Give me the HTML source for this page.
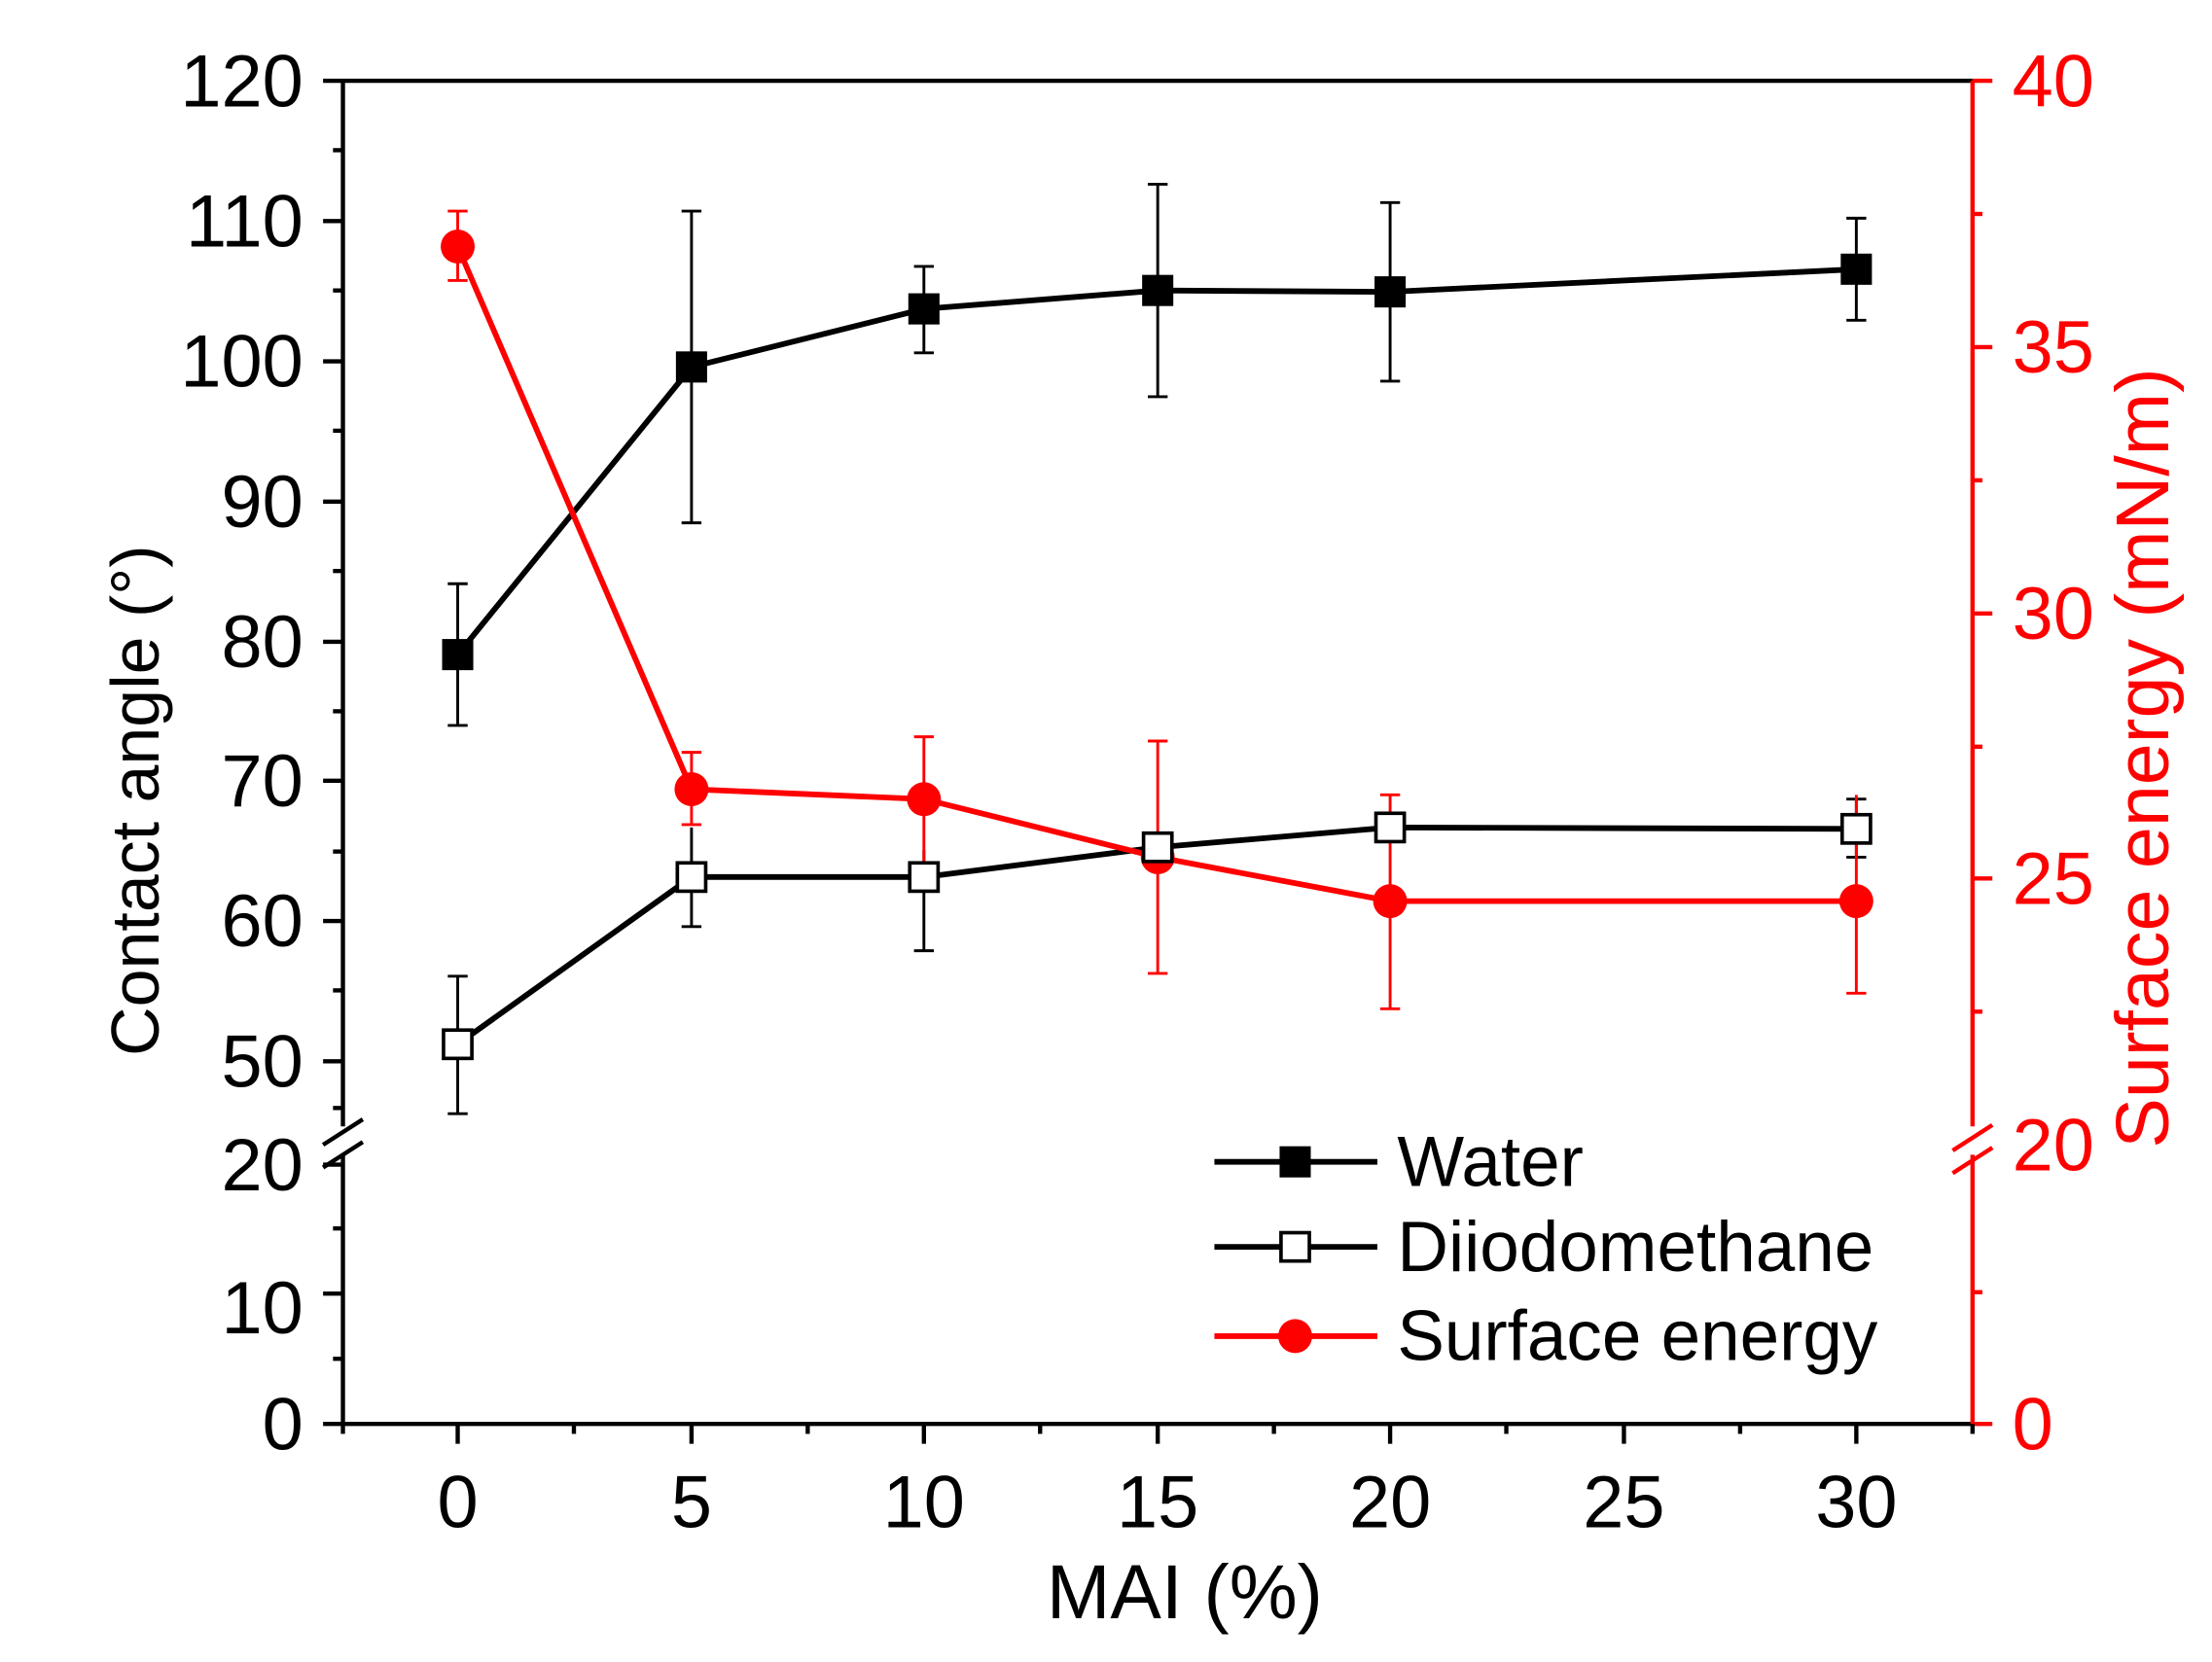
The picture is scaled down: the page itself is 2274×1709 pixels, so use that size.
<!DOCTYPE html>
<html><head><meta charset="utf-8"><style>html,body{margin:0;padding:0;background:#fff}svg{display:block}</style></head>
<body>
<svg width="2274" height="1709" viewBox="0 0 1561 1173" preserveAspectRatio="none" xmlns="http://www.w3.org/2000/svg" font-family="Liberation Sans, Arial, sans-serif">
<rect width="1561" height="1173" fill="#fff"/>
<line x1="242" y1="57" x2="1392" y2="57" stroke="#000" stroke-width="3"/>
<line x1="242" y1="1005" x2="1392" y2="1005" stroke="#000" stroke-width="3"/>
<line x1="242" y1="57" x2="242" y2="795" stroke="#000" stroke-width="3"/>
<line x1="242" y1="815" x2="242" y2="1005" stroke="#000" stroke-width="3"/>
<line x1="1392" y1="57" x2="1392" y2="795" stroke="#f00" stroke-width="3"/>
<line x1="1392" y1="815" x2="1392" y2="1005" stroke="#f00" stroke-width="3"/>
<g stroke="#000" stroke-width="3"><line x1="228" y1="808" x2="256" y2="790"/><line x1="228" y1="824" x2="256" y2="806"/></g>
<g stroke="#f00" stroke-width="3"><line x1="1378" y1="812" x2="1406" y2="794"/><line x1="1378" y1="828" x2="1406" y2="810"/></g>
<g stroke="#000" stroke-width="3">
<line x1="228" y1="57" x2="242" y2="57"/><line x1="228" y1="156" x2="242" y2="156"/><line x1="228" y1="255" x2="242" y2="255"/><line x1="228" y1="354" x2="242" y2="354"/><line x1="228" y1="453" x2="242" y2="453"/><line x1="228" y1="551" x2="242" y2="551"/><line x1="228" y1="650" x2="242" y2="650"/><line x1="228" y1="749" x2="242" y2="749"/>
<line x1="235" y1="106" x2="242" y2="106"/><line x1="235" y1="205" x2="242" y2="205"/><line x1="235" y1="304" x2="242" y2="304"/><line x1="235" y1="403" x2="242" y2="403"/><line x1="235" y1="502" x2="242" y2="502"/><line x1="235" y1="601" x2="242" y2="601"/><line x1="235" y1="699" x2="242" y2="699"/><line x1="235" y1="782" x2="242" y2="782"/>
<line x1="228" y1="822" x2="242" y2="822"/><line x1="228" y1="913" x2="242" y2="913"/><line x1="228" y1="1005" x2="242" y2="1005"/>
<line x1="235" y1="867" x2="242" y2="867"/><line x1="235" y1="959" x2="242" y2="959"/>
</g>
<g stroke="#f00" stroke-width="3">
<line x1="1392" y1="57" x2="1406" y2="57"/><line x1="1392" y1="245" x2="1406" y2="245"/><line x1="1392" y1="433" x2="1406" y2="433"/><line x1="1392" y1="620" x2="1406" y2="620"/>
<line x1="1392" y1="151" x2="1399" y2="151"/><line x1="1392" y1="339" x2="1399" y2="339"/><line x1="1392" y1="527" x2="1399" y2="527"/><line x1="1392" y1="714" x2="1399" y2="714"/>
<line x1="1392" y1="912" x2="1399" y2="912"/><line x1="1392" y1="1005" x2="1406" y2="1005"/>
</g>
<g stroke="#000" stroke-width="3">
<line x1="323" y1="1005" x2="323" y2="1019"/><line x1="488" y1="1005" x2="488" y2="1019"/><line x1="652" y1="1005" x2="652" y2="1019"/><line x1="817" y1="1005" x2="817" y2="1019"/><line x1="981" y1="1005" x2="981" y2="1019"/><line x1="1146" y1="1005" x2="1146" y2="1019"/><line x1="1310" y1="1005" x2="1310" y2="1019"/>
<line x1="242" y1="1005" x2="242" y2="1012"/><line x1="405" y1="1005" x2="405" y2="1012"/><line x1="570" y1="1005" x2="570" y2="1012"/><line x1="734" y1="1005" x2="734" y2="1012"/><line x1="899" y1="1005" x2="899" y2="1012"/><line x1="1063" y1="1005" x2="1063" y2="1012"/><line x1="1228" y1="1005" x2="1228" y2="1012"/><line x1="1392" y1="1005" x2="1392" y2="1012"/>
</g>
<g font-size="52" text-anchor="end" fill="#000">
<text x="214" y="75">120</text><text x="214" y="174">110</text><text x="214" y="273">100</text><text x="214" y="372">90</text><text x="214" y="471">80</text><text x="214" y="569">70</text><text x="214" y="668">60</text><text x="214" y="767">50</text>
<text x="214" y="840">20</text><text x="214" y="941">10</text><text x="214" y="1023">0</text>
</g>
<g font-size="52" fill="#f00">
<text x="1420" y="75">40</text><text x="1420" y="263">35</text><text x="1420" y="451">30</text><text x="1420" y="638">25</text><text x="1420" y="826">20</text><text x="1420" y="1023">0</text>
</g>
<g font-size="52" text-anchor="middle">
<text x="323" y="1078">0</text><text x="488" y="1078">5</text><text x="652" y="1078">10</text><text x="817" y="1078">15</text><text x="981" y="1078">20</text><text x="1146" y="1078">25</text><text x="1310" y="1078">30</text>
</g>
<text x="836" y="1142" font-size="54" text-anchor="middle">MAI (%)</text>
<text transform="translate(112,565) rotate(-90)" font-size="48" text-anchor="middle">Contact angle (°)</text>
<text transform="translate(1530,535) rotate(-90)" font-size="53" text-anchor="middle" fill="#f00">Surface energy (mN/m)</text>
<g stroke="#000" stroke-width="2">
<line x1="323" y1="412" x2="323" y2="512"/><line x1="316" y1="412" x2="330" y2="412"/><line x1="316" y1="512" x2="330" y2="512"/>
<line x1="488" y1="149" x2="488" y2="369"/><line x1="481" y1="149" x2="495" y2="149"/><line x1="481" y1="369" x2="495" y2="369"/>
<line x1="652" y1="188" x2="652" y2="249"/><line x1="645" y1="188" x2="659" y2="188"/><line x1="645" y1="249" x2="659" y2="249"/>
<line x1="817" y1="130" x2="817" y2="280"/><line x1="810" y1="130" x2="824" y2="130"/><line x1="810" y1="280" x2="824" y2="280"/>
<line x1="981" y1="143" x2="981" y2="269"/><line x1="974" y1="143" x2="988" y2="143"/><line x1="974" y1="269" x2="988" y2="269"/>
<line x1="1310" y1="154" x2="1310" y2="226"/><line x1="1303" y1="154" x2="1317" y2="154"/><line x1="1303" y1="226" x2="1317" y2="226"/>
</g>
<polyline points="323,462 488,259 652,218 817,205 981,206 1310,190" fill="none" stroke="#000" stroke-width="4"/>
<g fill="#000"><rect x="312" y="451" width="22" height="22"/><rect x="477" y="248" width="22" height="22"/><rect x="641" y="207" width="22" height="22"/><rect x="806" y="194" width="22" height="22"/><rect x="970" y="195" width="22" height="22"/><rect x="1299" y="179" width="22" height="22"/></g>
<g stroke="#000" stroke-width="2">
<line x1="323" y1="689" x2="323" y2="786"/><line x1="316" y1="689" x2="330" y2="689"/><line x1="316" y1="786" x2="330" y2="786"/>
<line x1="488" y1="584" x2="488" y2="654"/><line x1="481" y1="654" x2="495" y2="654"/>
<line x1="652" y1="600" x2="652" y2="671"/><line x1="645" y1="671" x2="659" y2="671"/>
<line x1="1310" y1="564" x2="1310" y2="605"/><line x1="1303" y1="564" x2="1317" y2="564"/><line x1="1303" y1="605" x2="1317" y2="605"/>
</g>
<polyline points="323,737 488,619 652,619 817,598 981,584 1310,585" fill="none" stroke="#000" stroke-width="4"/>
<g stroke="#f00" stroke-width="2">
<line x1="323" y1="149" x2="323" y2="198"/><line x1="316" y1="149" x2="330" y2="149"/><line x1="316" y1="198" x2="330" y2="198"/>
<line x1="488" y1="531" x2="488" y2="582"/><line x1="481" y1="531" x2="495" y2="531"/><line x1="481" y1="582" x2="495" y2="582"/>
<line x1="652" y1="520" x2="652" y2="610"/><line x1="645" y1="520" x2="659" y2="520"/><line x1="645" y1="610" x2="659" y2="610"/>
<line x1="817" y1="523" x2="817" y2="687"/><line x1="810" y1="523" x2="824" y2="523"/><line x1="810" y1="687" x2="824" y2="687"/>
<line x1="981" y1="561" x2="981" y2="712"/><line x1="974" y1="561" x2="988" y2="561"/><line x1="974" y1="712" x2="988" y2="712"/>
<line x1="1310" y1="561" x2="1310" y2="701"/><line x1="1303" y1="701" x2="1317" y2="701"/>
</g>
<polyline points="323,174 488,557 652,564 817,605 981,636 1310,636" fill="none" stroke="#f00" stroke-width="4"/>
<g fill="#f00"><circle cx="323" cy="174" r="12"/><circle cx="488" cy="557" r="12"/><circle cx="652" cy="564" r="12"/><circle cx="817" cy="605" r="12"/><circle cx="981" cy="636" r="12"/><circle cx="1310" cy="636" r="12"/></g>
<g fill="#fff" stroke="#000" stroke-width="2.5"><rect x="313" y="727" width="20" height="20"/><rect x="478" y="609" width="20" height="20"/><rect x="642" y="609" width="20" height="20"/><rect x="807" y="588" width="20" height="20"/><rect x="971" y="574" width="20" height="20"/><rect x="1300" y="575" width="20" height="20"/></g>
<line x1="857" y1="820" x2="972" y2="820" stroke="#000" stroke-width="4"/>
<rect x="903" y="809" width="22" height="22" fill="#000"/>
<line x1="857" y1="880" x2="972" y2="880" stroke="#000" stroke-width="4"/>
<rect x="904" y="870" width="20" height="20" fill="#fff" stroke="#000" stroke-width="2.5"/>
<line x1="857" y1="943" x2="972" y2="943" stroke="#f00" stroke-width="4"/>
<circle cx="914" cy="943" r="12" fill="#f00"/>
<g font-size="50"><text x="986" y="837">Water</text><text x="986" y="897">Diiodomethane</text><text x="986" y="960">Surface energy</text></g>
</svg>
</body></html>
